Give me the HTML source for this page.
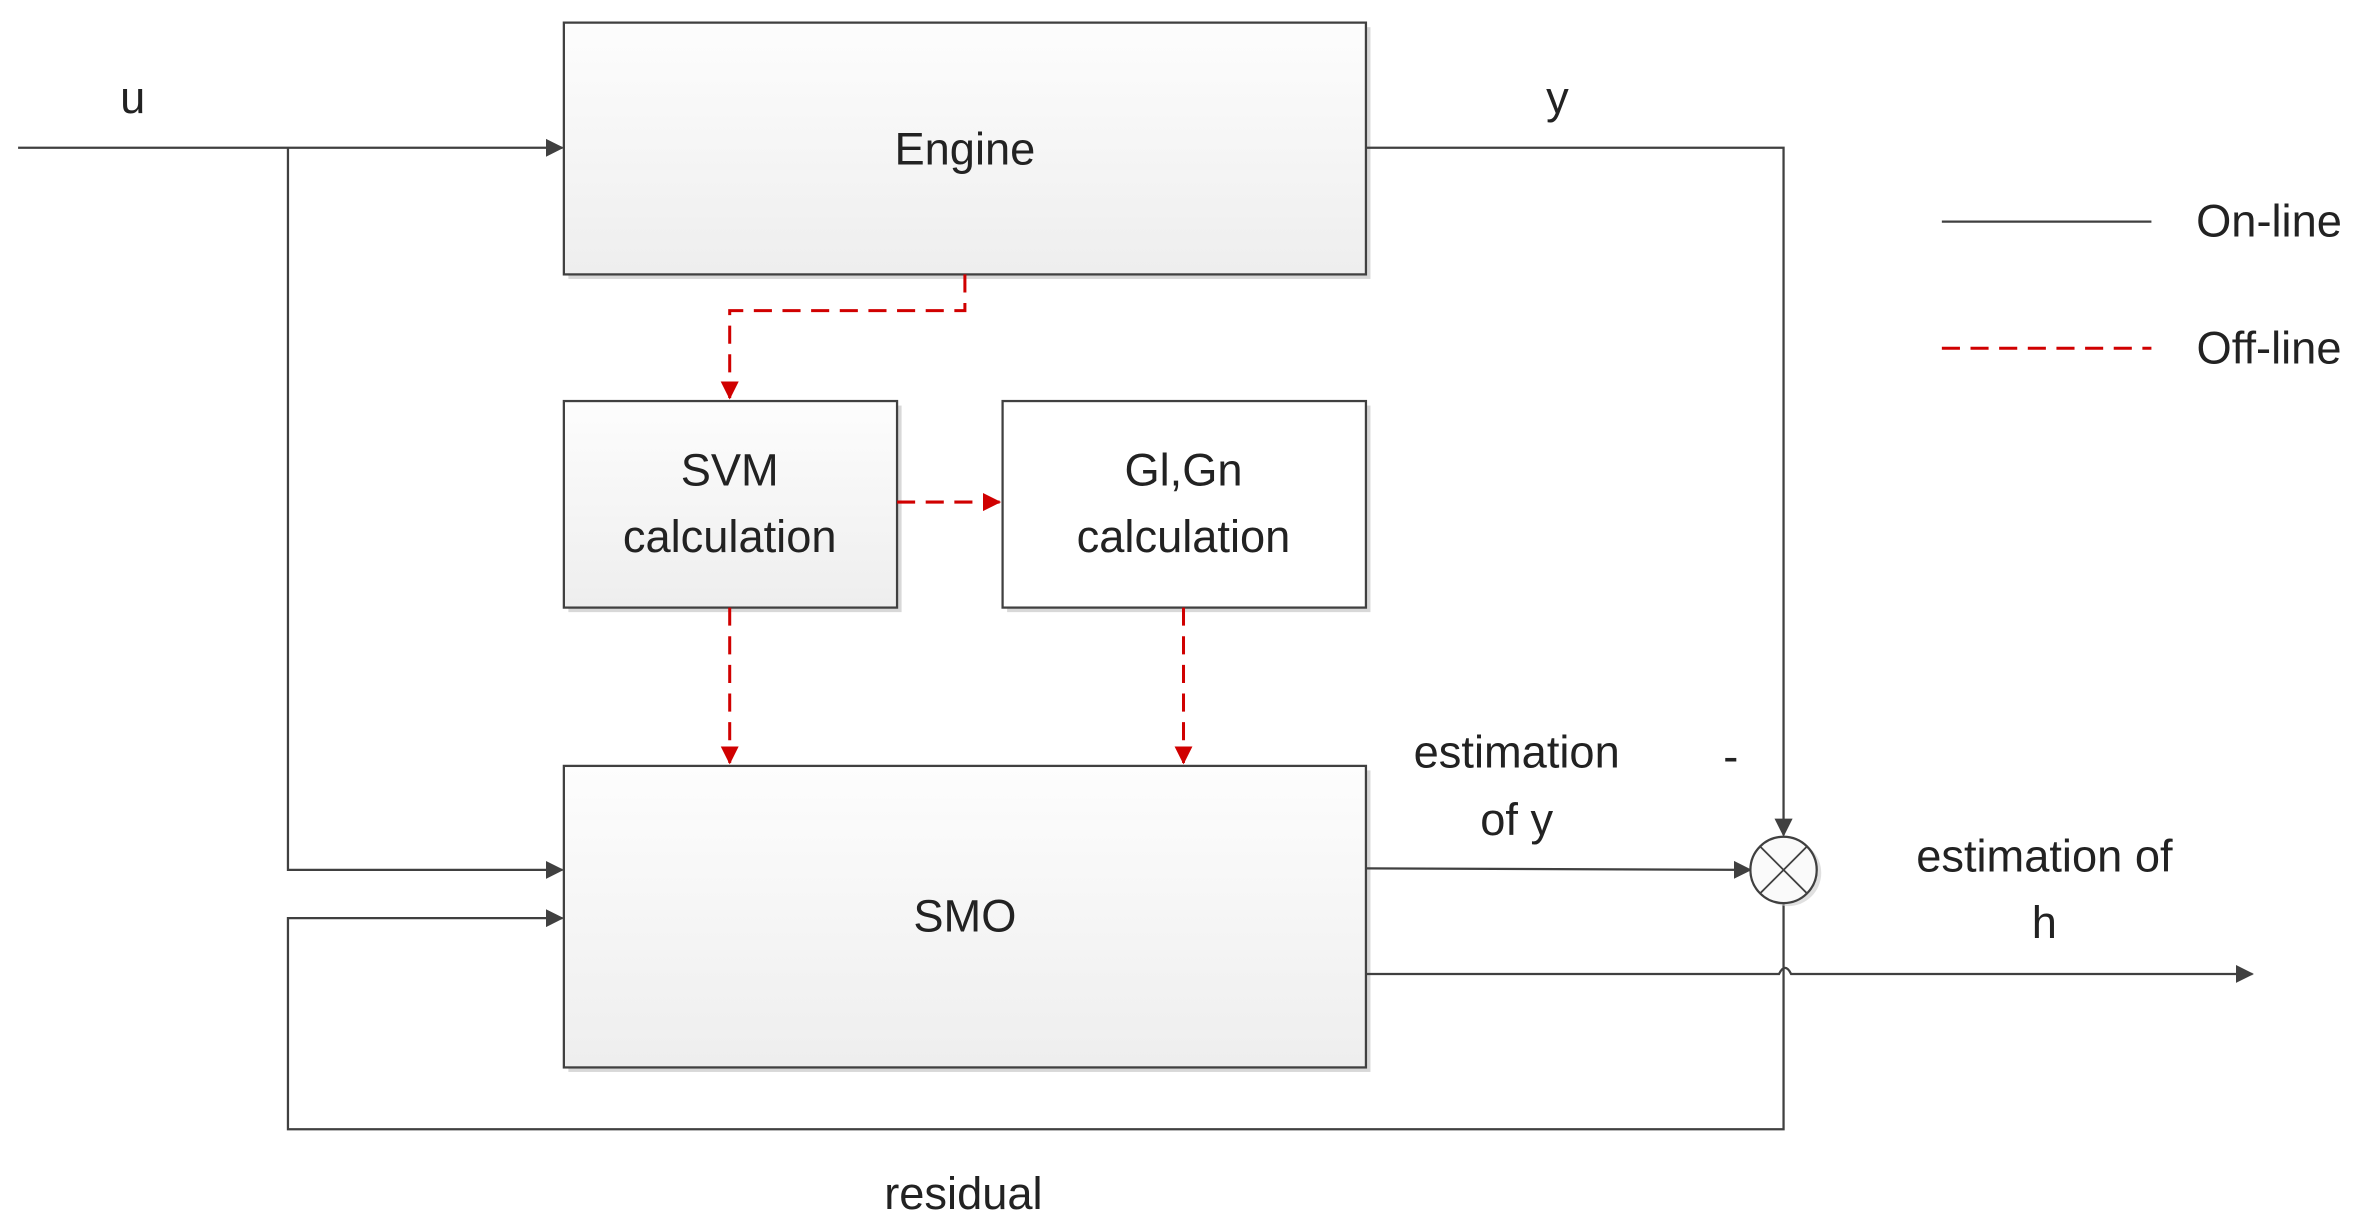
<!DOCTYPE html>
<html><head><meta charset="utf-8"><style>
html,body{margin:0;padding:0;background:#fff;}
svg{display:block;}
text{font-family:"Liberation Sans",sans-serif;font-size:30px;fill:#222;text-anchor:middle;}
</style></head><body>
<svg width="2364" height="1228" viewBox="0 0 1568 814.5" xmlns="http://www.w3.org/2000/svg">
<defs>
<linearGradient id="g" x1="0" y1="0" x2="0" y2="1"><stop offset="0" stop-color="#fdfdfd"/><stop offset="1" stop-color="#eeeeee"/></linearGradient>
<marker id="ab" markerWidth="12" markerHeight="12" refX="11" refY="6" orient="auto" markerUnits="userSpaceOnUse"><path d="M0,0 L12,6 L0,12 Z" fill="#404040"/></marker>
<marker id="ar" markerWidth="12" markerHeight="12" refX="11" refY="6" orient="auto" markerUnits="userSpaceOnUse"><path d="M0,0 L12,6 L0,12 Z" fill="#d00000"/></marker>
</defs>
<g fill="#d8d8d8">
<rect x="377" y="18" width="532" height="167"/>
<rect x="377" y="269" width="221" height="137"/>
<rect x="668" y="269" width="241" height="137"/>
<rect x="377" y="511" width="532" height="200"/>
</g>
<g fill="url(#g)" stroke="#404040" stroke-width="1.5">
<rect x="374" y="15" width="532" height="167"/>
<rect x="374" y="266" width="221" height="137"/>
<rect x="665" y="266" width="241" height="137" fill="#fff"/>
<rect x="374" y="508" width="532" height="200"/>
</g>
<text x="640" y="109">Engine</text>
<text x="484" y="322">SVM</text>
<text x="484" y="366">calculation</text>
<text x="785" y="322">Gl,Gn</text>
<text x="785" y="366">calculation</text>
<text x="640" y="618">SMO</text>
<text x="88" y="75">u</text>
<text x="1033" y="75">y</text>
<text x="1006" y="509">estimation</text>
<text x="1006" y="554">of y</text>
<text x="1148" y="512">-</text>
<text x="1356" y="578">estimation of</text>
<text x="1356" y="622">h</text>
<text x="639" y="802">residual</text>
<text x="1505" y="157">On-line</text>
<text x="1505" y="241">Off-line</text>
<g stroke="#404040" stroke-width="1.5" fill="none">
<line x1="12" y1="98" x2="373" y2="98" marker-end="url(#ab)"/>
<polyline points="191,98 191,577 373,577" marker-end="url(#ab)"/>
<polyline points="906,98 1183,98 1183,554" marker-end="url(#ab)"/>
<line x1="906" y1="576" x2="1161" y2="577" marker-end="url(#ab)"/>
<path d="M906,646 L1180,646 Q1184,638 1188,646 L1494,646" marker-end="url(#ab)"/>
<polyline points="1183,599 1183,749 191,749 191,609 373,609" marker-end="url(#ab)"/>
<line x1="1288" y1="147" x2="1427" y2="147"/>
</g>
<circle cx="1186" cy="579" r="22" fill="#ccc" opacity="0.6"/>
<circle cx="1183" cy="577" r="22" fill="#fafafa" stroke="#404040" stroke-width="1.5"/>
<line x1="1167.4" y1="561.4" x2="1198.6" y2="592.6" stroke="#404040" stroke-width="1.2"/>
<line x1="1198.6" y1="561.4" x2="1167.4" y2="592.6" stroke="#404040" stroke-width="1.2"/>
<g stroke="#d00000" stroke-width="2" fill="none" stroke-dasharray="12,7">
<polyline points="640,182 640,206 484,206 484,264" marker-end="url(#ar)"/>
<line x1="595" y1="333" x2="663" y2="333" marker-end="url(#ar)"/>
<line x1="484" y1="403" x2="484" y2="506" marker-end="url(#ar)"/>
<line x1="785" y1="403" x2="785" y2="506" marker-end="url(#ar)"/>
<line x1="1288" y1="231" x2="1427" y2="231"/>
</g>
</svg>
</body></html>
